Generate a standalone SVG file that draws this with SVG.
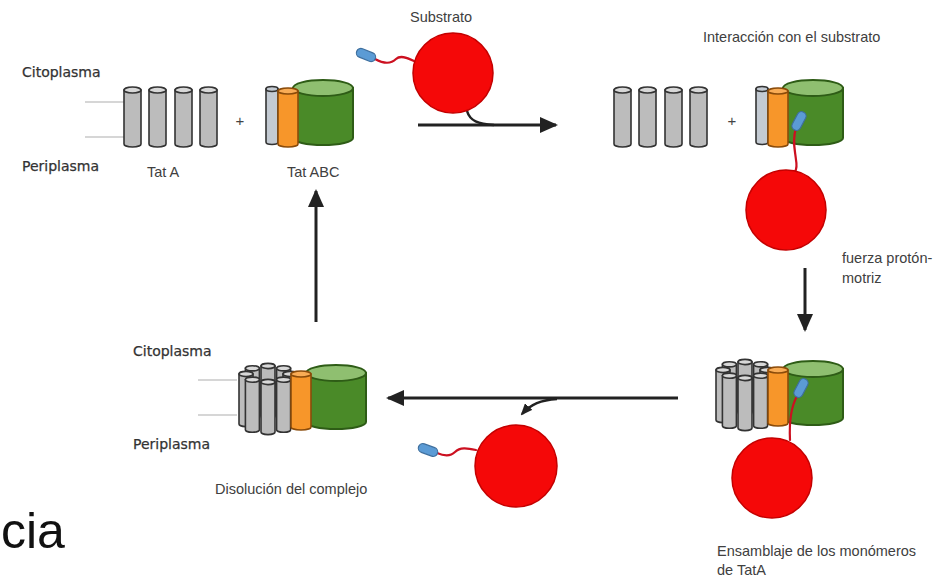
<svg xmlns="http://www.w3.org/2000/svg" xmlns:xlink="http://www.w3.org/1999/xlink" width="950" height="580" viewBox="0 0 950 580">
  <style>
    .side { font-family: "DejaVu Sans", "Liberation Sans", sans-serif; font-size: 14px; fill: #333; stroke: #333; stroke-width: 0.25; }
    .lbl { font-family: "Liberation Sans", Arial, sans-serif; font-size: 14.5px; fill: #404040; }
    .plus { font-family: "Liberation Sans", Arial, sans-serif; font-size: 15px; fill: #444; text-anchor: middle; }
    .memb { stroke: #c8c8c8; stroke-width: 1.5; fill: none; }
    .arrow { stroke: #222; stroke-width: 3; fill: none; }
    .tail { stroke: #cc1020; stroke-width: 2.2; fill: none; stroke-linecap: round; }
    .ball { fill: #f50808; stroke: #c40000; stroke-width: 1.5; }
    .gbody { fill: #bcbcbc; stroke: #333; stroke-width: 1.6; }
    .gtop { fill: #d8d8d8; stroke: #333; stroke-width: 1.6; }
    .bbody { fill: #c3cad2; stroke: #333; stroke-width: 1.6; }
    .obody { fill: #f7962a; stroke: #8a4b0a; stroke-width: 1.6; }
    .otop { fill: #f9ac55; stroke: #8a4b0a; stroke-width: 1.6; }
    .grbody { fill: #4a8a28; stroke: #2e5c16; stroke-width: 2; }
    .grtop { fill: #8fbf70; stroke: #2e5c16; stroke-width: 2; }
  </style>
  <defs>
    <marker id="ah" viewBox="0 0 18 16" markerWidth="18" markerHeight="16" refX="16" refY="8" orient="auto" markerUnits="userSpaceOnUse">
      <path d="M0,0 L18,8 L0,16 Z" fill="#222"/>
    </marker>
    <marker id="ahs" viewBox="0 0 12 10" markerWidth="12" markerHeight="10" refX="10" refY="5" orient="auto" markerUnits="userSpaceOnUse">
      <path d="M0,0 L12,5 L0,10 Z" fill="#222"/>
    </marker>
    <!-- single TatA monomer -->
    <g id="mono">
      <path class="gbody" d="M0,3 V57 A8.5,3 0 0 0 17,57 V3 Z"/>
      <ellipse class="gtop" cx="8.5" cy="3" rx="8.5" ry="3"/>
    </g>
    <!-- small cylinder of the TatA ring -->
    <g id="ringc">
      <path class="gbody" d="M0,3 V53 A7,2.6 0 0 0 14,53 V3 Z"/>
      <ellipse class="gtop" cx="7" cy="3" rx="7" ry="2.6"/>
    </g>
    <!-- TatBC unit: green TatC barrel, grey TatB, orange column -->
    <g id="tatbc">
      <path class="grbody" d="M27,8 V58 A30,7 0 0 0 87,58 V8 Z"/>
      <ellipse class="grtop" cx="57" cy="8" rx="30" ry="8"/>
      <path class="bbody" d="M0,9 V62 A6,2.5 0 0 0 12,62 V9 Z"/>
      <ellipse class="bbody" cx="6" cy="9" rx="6" ry="2.5"/>
      <path class="obody" d="M12,11 V64 A10,3 0 0 0 32,64 V11 Z"/>
      <ellipse class="otop" cx="22" cy="11" rx="10" ry="3"/>
    </g>
    <!-- assembled complex: TatA ring next to TatBC -->
    <g id="cluster">
      <path class="grbody" d="M68,10 V59 A30,7 0 0 0 128,59 V10 Z"/>
      <ellipse class="grtop" cx="98" cy="10" rx="30" ry="8"/>
      <use xlink:href="#ringc" x="23" y="0"/>
      <use xlink:href="#ringc" x="38.6" y="2.3"/>
      <use xlink:href="#ringc" x="7.4" y="2.3"/>
      <use xlink:href="#ringc" x="45" y="8"/>
      <use xlink:href="#ringc" x="1" y="8"/>
      <use xlink:href="#ringc" x="38.6" y="13.7"/>
      <use xlink:href="#ringc" x="7.4" y="13.7"/>
      <use xlink:href="#ringc" x="23" y="16"/>
      <path class="obody" d="M53,11 V64 A10,3 0 0 0 73,64 V11 Z"/>
      <ellipse class="otop" cx="63" cy="11" rx="10" ry="3"/>
    </g>
    <!-- signal peptide tag -->
    <rect id="tag" x="-10" y="-4.5" width="20" height="9" rx="4.5" fill="#5b9bd5" stroke="#3e6f9e" stroke-width="1.2"/>
  </defs>

  <rect width="950" height="580" fill="#fff"/>

  <!-- connectors -->
  <g id="connectors">
    <path class="arrow" d="M418,125 H556" marker-end="url(#ah)"/>
    <path d="M467,111 C470,121 478,124 494,125" stroke="#222" stroke-width="2.5" fill="none"/>
    <path class="arrow" d="M805,268 V330" marker-end="url(#ah)"/>
    <path class="arrow" d="M678,398 H388" marker-end="url(#ah)"/>
    <path d="M557,399 C541,400 531,404 522,414" stroke="#222" stroke-width="2.5" fill="none" marker-end="url(#ahs)"/>
    <path class="arrow" d="M316,322 V191" marker-end="url(#ah)"/>
  </g>

  <!-- stage 1: separate TatA and TatBC -->
  <g id="stage-separate">
    <text class="side" x="22" y="77">Citoplasma</text>
    <text class="side" x="22" y="171">Periplasma</text>
    <line class="memb" x1="85" y1="102" x2="124" y2="102"/>
    <line class="memb" x1="85" y1="137" x2="124" y2="137"/>
    <use xlink:href="#mono" x="124" y="87"/>
    <use xlink:href="#mono" x="149" y="87"/>
    <use xlink:href="#mono" x="175" y="87"/>
    <use xlink:href="#mono" x="200" y="87"/>
    <text class="plus" x="240" y="126">+</text>
    <use xlink:href="#tatbc" x="266" y="80"/>
    <text class="lbl" x="147" y="177">Tat A</text>
    <text class="lbl" x="287" y="177">Tat ABC</text>
  </g>

  <!-- free substrate -->
  <g id="substrate-in">
    <text class="lbl" x="410" y="22">Substrato</text>
    <path class="tail" d="M414,61 C406,57 400,55 396,59 C391,64 384,64 375,59"/>
    <use xlink:href="#tag" transform="translate(366,55) rotate(22)"/>
    <circle class="ball" cx="453" cy="73" r="40"/>
  </g>

  <!-- stage 2: substrate bound to TatBC -->
  <g id="stage-binding">
    <text class="lbl" x="703" y="42">Interacción con el substrato</text>
    <use xlink:href="#mono" x="614" y="87"/>
    <use xlink:href="#mono" x="639" y="87"/>
    <use xlink:href="#mono" x="665" y="87"/>
    <use xlink:href="#mono" x="690" y="87"/>
    <text class="plus" x="732" y="126">+</text>
    <use xlink:href="#tatbc" x="756" y="80"/>
    <path class="tail" d="M796,128 C792,140 795,150 796,160 C797,165 796,170 795,172"/>
    <use xlink:href="#tag" transform="translate(799,121) rotate(-62)"/>
    <circle class="ball" cx="786" cy="210" r="40"/>
    <text class="lbl" x="842" y="263">fuerza protón-</text>
    <text class="lbl" x="842" y="283">motriz</text>
  </g>

  <!-- stage 3: TatA assembled around TatBC -->
  <g id="stage-assembly">
    <use xlink:href="#cluster" x="715" y="359"/>
    <path class="tail" d="M797,396 C791,407 789,420 790,440"/>
    <use xlink:href="#tag" transform="translate(801,388) rotate(-62)"/>
    <circle class="ball" cx="772" cy="478" r="40"/>
    <text class="lbl" x="717" y="556">Ensamblaje de los monómeros</text>
    <text class="lbl" x="717" y="575">de TatA</text>
  </g>

  <!-- released substrate -->
  <g id="substrate-out">
    <path class="tail" d="M437,453 C444,456 450,457 455,452 C460,447 467,448 476,450"/>
    <use xlink:href="#tag" transform="translate(428,450) rotate(20)"/>
    <circle class="ball" cx="516" cy="466" r="41"/>
  </g>

  <!-- stage 4: complex dissolution -->
  <g id="stage-dissolution">
    <text class="side" x="133" y="356">Citoplasma</text>
    <text class="side" x="133" y="449">Periplasma</text>
    <line class="memb" x1="198" y1="380" x2="237" y2="380"/>
    <line class="memb" x1="198" y1="415" x2="237" y2="415"/>
    <use xlink:href="#cluster" x="238" y="363"/>
    <text class="lbl" x="215" y="494">Disolución del complejo</text>
  </g>

  <text x="1" y="548" font-family="Liberation Sans, Arial, sans-serif" font-size="50" fill="#111">cia</text>
</svg>
